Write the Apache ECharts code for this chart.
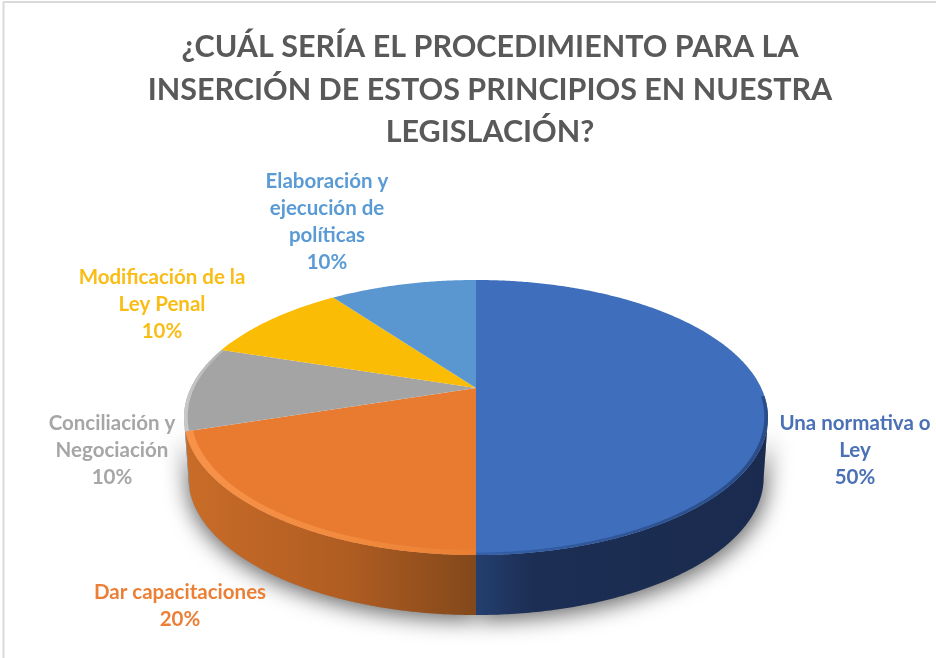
<!DOCTYPE html>
<html><head><meta charset="utf-8">
<style>html,body{margin:0;padding:0;background:#fff}#c{width:936px;height:658px}</style>
<script src="https://cdn.jsdelivr.net/npm/echarts@6/dist/echarts.min.js"></script>
</head><body><div id="c"></div>
<script>
const titleText = '¿CUÁL SERÍA EL PROCEDIMIENTO PARA LA\nINSERCIÓN DE ESTOS PRINCIPIOS EN NUESTRA\nLEGISLACIÓN?';
const categories = ['Una normativa o\nLey','Dar capacitaciones','Conciliación y\nNegociación','Modificación de la\nLey Penal','Elaboración y\nejecución de\npolíticas'];
const values = [50,20,10,10,10];

// styling and layout, separate from the data
const topColors = ['#3F6EBC','#E97B30','#A4A4A4','#FBBC05','#5A97D1'];
const rimStops = [
  [[0,'#3560A8'],[0.55,'#2F5595'],[1,'#2A4C88']],
  [[0,'#F7924A'],[0.6,'#F18A3D'],[1,'#EA7F34']],
  [[0,'#C8C8C8'],[1,'#B4B4B4']],[[0,'#FBBC05'],[1,'#FBBC05']],[[0,'#5A97D1'],[1,'#5A97D1']]
];
const wallStops = [
  [[0,'#243F6F'],[0.2,'#1C2E53'],[1,'#1A2B4F']],
  [[0,'#C96C28'],[0.55,'#B05D22'],[1,'#83481B']],
  [[0,'#8A8A8A'],[1,'#8A8A8A']],[[0,'#B88A00'],[1,'#B88A00']],[[0,'#3F6E9A'],[1,'#3F6E9A']]
];
const labelColors = ['#4A70B5','#EC7F36','#A6A6A6','#F9BD16','#5B9BD5'];
const labelAnchors = [[855,450],[180,606],[112,450],[162,304],[327,222]];
const P = {cx:476, cy:388, a:285.2, b:131.2, k:0.2145, depth:60, lowerScale:0.985};

const total = values.reduce((s,v)=>s+v,0);
const starts = []; values.reduce((s,v,i)=>(starts[i]=s, s+v),0);
const toAngle = v => v/total*2*Math.PI;
const hGradient = stops => ({type:'linear',x:0,y:0,x2:1,y2:0,
  colorStops:stops.map(s=>({offset:s[0],color:s[1]}))});

function project(t, r){
  const X = r*Math.sin(t), Y = -r*Math.cos(t), w = 1 - P.k*Y;
  return [P.cx + P.a*X/w, P.cy + P.b*Y/w];
}
function lower(pt){ return [P.cx + (pt[0]-P.cx)*P.lowerScale, pt[1] + P.depth]; }
function arc(t0,t1,r){
  const n = Math.max(2, Math.ceil((t1-t0)/0.01)), out=[];
  for(let i=0;i<=n;i++) out.push(project(t0+(t1-t0)*i/n, r));
  return out;
}
const silhouette = Math.acos(-P.k);

function renderItem(params, api){
  const i = params.dataIndex, val = api.value(0);
  const t0 = toAngle(starts[i]), t1 = t0 + toAngle(val);
  const children = [];
  const a0 = Math.max(t0, silhouette), a1 = Math.min(t1, 2*Math.PI - silhouette);
  if (a1 > a0){
    const edge = arc(a0,a1,1);
    const wall = edge.concat(edge.slice().reverse().map(lower));
    const leftSide = a0 >= Math.PI;
    children.push({type:'polygon', z2:0, shape:{points:wall}, style:{fill:'#888',shadowBlur:22,shadowColor:'rgba(0,0,0,0.6)',shadowOffsetY:5,shadowOffsetX:leftSide?-1:3}});
    children.push({type:'polygon', z2:1, shape:{points:wall}, style:{fill:hGradient(wallStops[i])}});
  }
  children.push({type:'polygon', z2:2, shape:{points:[[P.cx,P.cy]].concat(arc(t0,t1,1))}, style:{fill:topColors[i]}});
  const b0 = Math.max(t0, Math.PI*0.52), b1 = Math.min(t1, Math.PI*1.62);
  if (b1 > b0){
    const outer = arc(b0,b1,1), inner = arc(b0,b1,i===1?0.976:0.988);
    children.push({type:'polygon', z2:3, shape:{points:outer.concat(inner.reverse())}, style:{fill:hGradient(rimStops[i])}});
  }
  const anchor = labelAnchors[i];
  children.push({type:'text', z2:10, style:{
    text: categories[i]+'\n'+val+'%', x:anchor[0], y:anchor[1],
    align:'center', verticalAlign:'middle',
    font:'bold 20.5px Lato', lineHeight:27, fill:labelColors[i]
  }});
  return {type:'group', children};
}

const chart = echarts.init(document.getElementById('c'), null, {renderer:'canvas'});
chart.setOption({
  animation:false,
  backgroundColor:'#fff',
  title:{text:titleText, left:485, top:21, textAlign:'center',
    textStyle:{fontFamily:'Lato',fontWeight:'bold',fontSize:30.5,lineHeight:42.5,color:'#595959'}},
  graphic:[
    {type:'line',shape:{x1:3,y1:2,x2:936,y2:2},style:{stroke:'#DADADA',lineWidth:2}},
    {type:'line',shape:{x1:3.5,y1:2,x2:3.5,y2:658},style:{stroke:'#DADADA',lineWidth:2}}
  ],
  series:[{type:'custom',coordinateSystem:'none',renderItem,
    data:values.map((v,i)=>({name:categories[i],value:[v]})),
    encode:{value:0}}]
});
</script></body></html>
